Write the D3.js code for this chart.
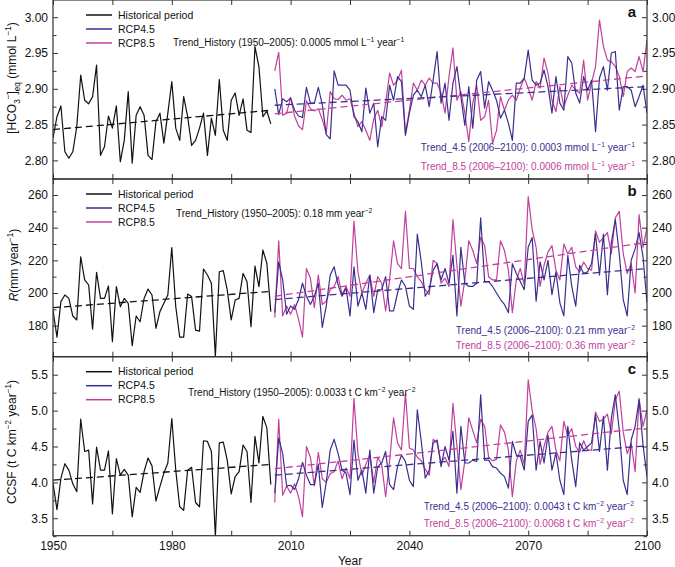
<!DOCTYPE html>
<html>
<head>
<meta charset="utf-8">
<title>HCO3, runoff and CCSF, 1950-2100</title>
<script src="https://d3js.org/d3.v7.min.js"></script>
<style>
  body { margin: 0; background: #fff; }
  text { font-family: "Liberation Sans", Arial, Helvetica, sans-serif; }
</style>
</head>
<body>
<div id="chart"></div>
<script>
// years
var histYears = d3.range(1950, 2006);
var rcpYears = d3.range(2006, 2101);
var xTicks = [1950, 1980, 2010, 2040, 2070, 2100];
var xMinor = [1965, 1995, 2025, 2055, 2085];

// panel a: [HCO3-]eq (mmol L-1)
var hco3Hist = [2.831, 2.861, 2.876, 2.812, 2.803, 2.812, 2.847, 2.919, 2.884, 2.879,
  2.889, 2.933, 2.807, 2.819, 2.862, 2.845, 2.876, 2.798, 2.828, 2.896,
  2.796, 2.863, 2.875, 2.863, 2.807, 2.801, 2.854, 2.866, 2.824, 2.866,
  2.910, 2.845, 2.828, 2.889, 2.861, 2.821, 2.828, 2.845, 2.866, 2.807,
  2.859, 2.835, 2.913, 2.842, 2.828, 2.884, 2.894, 2.863, 2.886, 2.842,
  2.839, 2.959, 2.931, 2.861, 2.869, 2.851];
var hco3Rcp45 = [2.900, 2.864, 2.886, 2.882, 2.887, 2.870, 2.862, 2.860, 2.902, 2.880,
  2.880, 2.902, 2.878, 2.836, 2.830, 2.925, 2.905, 2.905, 2.905, 2.898,
  2.861, 2.854, 2.840, 2.901, 2.866, 2.880, 2.819, 2.861, 2.856, 2.905,
  2.884, 2.917, 2.910, 2.835, 2.866, 2.891, 2.898, 2.889, 2.905, 2.875,
  2.912, 2.952, 2.880, 2.908, 2.856, 2.908, 2.931, 2.889, 2.849, 2.903,
  2.845, 2.912, 2.924, 2.873, 2.910, 2.898, 2.884, 2.859, 2.870, 2.852,
  2.828, 2.908, 2.908, 2.915, 2.954, 2.912, 2.905, 2.908, 2.926, 2.903,
  2.866, 2.917, 2.880, 2.870, 2.945, 2.936, 2.894, 2.880, 2.917, 2.898,
  2.912, 2.840, 2.915, 2.931, 2.898, 2.950, 2.952, 2.870, 2.903, 2.903,
  2.898, 2.875, 2.889, 2.905, 2.866];
var hco3Rcp85 = [2.925, 2.951, 2.863, 2.866, 2.888, 2.862, 2.848, 2.843, 2.883, 2.872,
  2.869, 2.872, 2.857, 2.838, 2.896, 2.886, 2.885, 2.891, 2.884, 2.886,
  2.866, 2.847, 2.854, 2.842, 2.828, 2.858, 2.870, 2.847, 2.880, 2.922,
  2.905, 2.912, 2.926, 2.838, 2.870, 2.908, 2.898, 2.912, 2.905, 2.915,
  2.908, 2.908, 2.894, 2.866, 2.917, 2.957, 2.884, 2.896, 2.866, 2.826,
  2.880, 2.905, 2.856, 2.861, 2.884, 2.824, 2.842, 2.889, 2.870, 2.884,
  2.891, 2.884, 2.901, 2.915, 2.901, 2.884, 2.910, 2.901, 2.943, 2.922,
  2.884, 2.868, 2.903, 2.875, 2.891, 2.905, 2.898, 2.894, 2.940, 2.884,
  2.908, 2.931, 2.996, 2.959, 2.940, 2.938, 2.931, 2.917, 2.889, 2.924,
  2.929, 2.924, 2.945, 2.924, 2.968];
// trend lines: [start, end] values
var hco3TrendHist = [2.843, 2.870];
var hco3Trend45 = [2.877, 2.903];
var hco3Trend85 = [2.865, 2.918];
var hco3Ticks = [2.80, 2.85, 2.90, 2.95, 3.00];
var hco3Minor = [2.775, 2.825, 2.875, 2.925, 2.975];

// panel b: R (mm year-1)
var runoffHist = [189.4, 173, 194.7, 198.8, 196.7, 185.9, 183.5, 222.2, 208, 204.9,
  177.8, 212.7, 196.7, 196.7, 204.3, 170.2, 203.9, 191.6, 196.7, 193.7,
  167.8, 185.9, 182.4, 196.7, 202.4, 198.8, 178.4, 188.6, 193.7, 198.8,
  227.8, 191.6, 173, 173, 199.4, 197.8, 177.3, 176.7, 214.7, 211,
  205.9, 161, 213, 213.7, 201.8, 183.5, 195.7, 196.7, 212, 206.9,
  179.4, 216.5, 203.9, 226.3, 218.2, 188.6];
var runoffRcp45 = [188, 219, 208, 187, 192, 190, 196, 206, 198, 193,
  198, 206, 179, 192, 211, 216, 205, 198, 203, 186,
  216, 192, 200, 190, 211, 188, 202, 202, 210, 189,
  189, 200, 208, 204, 192, 190, 236, 219, 198, 202,
  214, 218, 208, 215, 206, 223, 186, 228, 206, 204,
  204, 206, 246, 207, 207, 204, 200, 196, 193, 188,
  218, 212, 207, 202, 228, 234, 195, 219, 208, 220,
  199, 213, 194, 186, 223, 204, 192, 217, 212, 213,
  218, 236, 211, 236, 199, 231, 245, 224, 196, 186,
  220, 227, 237, 222, 194];
var runoffRcp85 = [185, 232, 186, 192, 187, 193, 184, 173, 215, 209,
  191, 211, 193, 195, 202, 204, 210, 199, 204, 198,
  244, 213, 200, 206, 211, 198, 210, 206, 189, 208,
  232, 218, 215, 250, 215, 215, 210, 207, 202, 199,
  220, 218, 206, 209, 204, 245, 217, 192, 208, 232,
  226, 218, 234, 229, 210, 208, 208, 232, 226, 214,
  188, 208, 215, 205, 259, 239, 228, 204, 217, 225,
  229, 214, 208, 230, 224, 228, 216, 213, 219, 215,
  214, 238, 231, 234, 237, 224, 246, 250, 224, 212,
  218, 200, 248, 228, 240];
var runoffTrendHist = [191, 201];
var runoffTrend45 = [196, 215];
var runoffTrend85 = [198, 231];
var runoffTicks = [180, 200, 220, 240, 260];
var runoffMinor = [170, 190, 210, 230, 250];

// panel c: CCSF (t C km-2 year-1)
var ccsfHist = [3.99, 3.62, 4.06, 4.26, 4.17, 3.98, 3.87, 4.88, 4.43, 4.45,
  3.70, 4.49, 4.17, 4.17, 4.44, 3.56, 4.33, 4.10, 4.18, 4.10,
  3.52, 3.93, 3.86, 4.15, 4.34, 4.23, 3.74, 3.94, 4.13, 4.27,
  4.89, 4.17, 3.66, 3.61, 4.17, 4.21, 3.72, 3.66, 4.58, 4.57,
  4.43, 3.24, 4.55, 4.56, 4.31, 3.84, 4.08, 4.15, 4.52, 4.43,
  3.72, 4.64, 4.27, 4.92, 4.76, 3.97];
var ccsfRcp45 = [3.85, 4.62, 4.40, 3.95, 3.96, 3.90, 4.05, 4.28, 4.10, 3.97,
  3.97, 4.25, 3.65, 4.00, 4.45, 4.60, 4.40, 4.17, 4.13, 3.83,
  4.59, 4.03, 4.17, 3.85, 4.45, 3.85, 4.22, 4.27, 4.43, 3.97,
  3.90, 4.22, 4.38, 4.29, 4.03, 3.94, 5.01, 4.57, 4.06, 4.17,
  4.55, 4.59, 4.22, 4.50, 4.31, 4.71, 3.85, 4.78, 4.27, 4.27,
  4.31, 4.29, 5.22, 4.31, 4.31, 4.22, 4.20, 4.13, 4.08, 3.92,
  4.57, 4.38, 4.36, 4.17, 4.85, 4.94, 4.17, 4.57, 4.27, 4.66,
  4.17, 4.41, 4.03, 3.83, 4.78, 4.31, 3.94, 4.55, 4.45, 4.50,
  4.55, 4.94, 4.43, 4.92, 4.17, 4.90, 5.22, 4.73, 4.03, 3.83,
  4.59, 4.78, 5.15, 4.52, 4.08];
var ccsfRcp85 = [3.72, 4.88, 3.82, 3.95, 3.85, 3.98, 3.80, 3.52, 4.50, 4.35,
  3.95, 4.42, 4.05, 4.00, 4.12, 4.15, 4.30, 4.05, 4.20, 4.05,
  5.17, 4.40, 4.10, 4.25, 4.38, 4.00, 4.35, 4.25, 3.80, 4.30,
  4.90, 4.55, 4.45, 5.24, 4.48, 4.45, 4.35, 4.30, 4.18, 4.10,
  4.60, 4.55, 4.28, 4.35, 4.22, 5.10, 4.50, 3.90, 4.30, 4.90,
  4.72, 4.55, 4.88, 4.78, 4.35, 4.30, 4.32, 4.80, 4.70, 4.45,
  3.80, 4.30, 4.45, 4.25, 5.43, 5.00, 4.75, 4.25, 4.50, 4.70,
  4.78, 4.45, 4.30, 4.85, 4.65, 4.75, 4.50, 4.42, 4.58, 4.45,
  4.45, 4.98, 4.85, 4.88, 4.95, 4.68, 5.15, 5.27, 4.70, 4.40,
  4.55, 4.15, 5.17, 4.78, 5.01];
var ccsfTrendHist = [4.03, 4.25];
var ccsfTrend45 = [4.10, 4.51];
var ccsfTrend85 = [4.19, 4.76];
var ccsfTicks = [3.5, 4.0, 4.5, 5.0, 5.5];
var ccsfMinor = [3.25, 3.75, 4.25, 4.75, 5.25];

var seriesNames = ["Historical period", "RCP4.5", "RCP8.5"];
var colors = ["#111111", "#3a2f8f", "#c2409c"];

// rich text helper: parts are strings or [string, "sup"|"sub"|"it"]
function rich(sel, parts, fs) {
    var shift = 0;
    parts.forEach(function (p) {
        var str = Array.isArray(p) ? p[0] : p;
        var kind = Array.isArray(p) ? p[1] : null;
        var target = kind === "sup" ? -0.4 * fs : (kind === "sub" ? 0.3 * fs : 0);
        var t = sel.append("tspan").text(str)
            .attr("dy", target - shift)
            .attr("font-size", (kind === "sup" || kind === "sub") ? fs * 0.68 : fs);
        if (kind === "it") t.attr("font-style", "italic");
        shift = target;
    });
}

var panels = [
    {
        letter: "a", top: 0, bottom: 179, domain: [2.774, 3.024],
        hist: hco3Hist, r45: hco3Rcp45, r85: hco3Rcp85,
        trends: [hco3TrendHist, hco3Trend45, hco3Trend85],
        ticks: hco3Ticks, minor: hco3Minor, fmt: d3.format(".2f"),
        label: ["[HCO", ["3", "sub"], ["−", "sup"], "]", ["eq", "sub"], " (mmol L", ["−1", "sup"], ")"],
        labelPos: [16, 78],
        unit: [" mmol L", ["−1", "sup"], " year", ["−1", "sup"]],
        hist0: "0.0005", r45v: "0.0003", r85v: "0.0006",
        histText: [173, 45.5], rText: [635, 151, 169.5]
    },
    {
        letter: "b", top: 179, bottom: 356.7, domain: [161, 269.8],
        hist: runoffHist, r45: runoffRcp45, r85: runoffRcp85,
        trends: [runoffTrendHist, runoffTrend45, runoffTrend85],
        ticks: runoffTicks, minor: runoffMinor, fmt: d3.format("d"),
        label: [["R", "it"], "(mm year", ["−1", "sup"], ")"],
        labelPos: [18, 265],
        unit: [" mm year", ["−2", "sup"]],
        hist0: "0.18", r45v: "0.21", r85v: "0.36",
        histText: [176, 216.5], rText: [635, 333.5, 349]
    },
    {
        letter: "c", top: 356.7, bottom: 535.7, domain: [3.257, 5.751],
        hist: ccsfHist, r45: ccsfRcp45, r85: ccsfRcp85,
        trends: [ccsfTrendHist, ccsfTrend45, ccsfTrend85],
        ticks: ccsfTicks, minor: ccsfMinor, fmt: d3.format(".1f"),
        label: ["CCSF (t C km", ["−2", "sup"], " year", ["−1", "sup"], ")"],
        labelPos: [16, 442],
        unit: [" t C km", ["−2", "sup"], " year", ["−2", "sup"]],
        hist0: "0.0033", r45v: "0.0043", r85v: "0.0068",
        histText: [188, 395.5], rText: [634, 510, 527]
    }
];

var W = 675, H = 567;
var left = 53, right = 647;

var svg = d3.select("#chart").append("svg")
    .attr("width", W).attr("height", H);

var x = d3.scaleLinear().domain([1950, 2100]).range([left, right]);

panels.forEach(function (p, i) {
    var y = d3.scaleLinear().domain(p.domain).range([p.bottom, p.top]);
    var g = svg.append("g").attr("class", "panel");

    var clipId = "clip" + i;
    svg.append("clipPath").attr("id", clipId)
        .append("rect").attr("x", left).attr("y", p.top)
        .attr("width", right - left).attr("height", p.bottom - p.top);

    var plot = g.append("g").attr("clip-path", "url(#" + clipId + ")");

    var line = d3.line().x(function (d) { return x(d[0]); }).y(function (d) { return y(d[1]); });

    var series = [
        histYears.map(function (yr, k) { return [yr, p.hist[k]]; }),
        rcpYears.map(function (yr, k) { return [yr, p.r45[k]]; }),
        rcpYears.map(function (yr, k) { return [yr, p.r85[k]]; })
    ];
    // draw 8.5 first, then 4.5 on top, history
    [2, 1, 0].forEach(function (s) {
        plot.append("path").datum(series[s])
            .attr("fill", "none").attr("stroke", colors[s])
            .attr("stroke-width", 1.2).attr("stroke-linejoin", "round")
            .attr("d", line);
    });

    var trendSpans = [[1950, 2005], [2006, 2100], [2006, 2100]];
    [2, 1, 0].forEach(function (s) {
        var t = p.trends[s];
        plot.append("path")
            .datum([[trendSpans[s][0], t[0]], [trendSpans[s][1], t[1]]])
            .attr("fill", "none").attr("stroke", colors[s])
            .attr("stroke-width", 1.3).attr("stroke-dasharray", "7,4")
            .attr("d", line);
    });

    // axes, ticks inward
    var axL = g.append("g").attr("transform", "translate(" + left + ",0)")
        .call(d3.axisLeft(y).tickValues(p.ticks).tickSize(-5).tickPadding(5).tickFormat(p.fmt));
    var axLm = g.append("g").attr("transform", "translate(" + left + ",0)")
        .call(d3.axisLeft(y).tickValues(p.minor).tickSize(-3.5).tickFormat(""));
    var axR = g.append("g").attr("transform", "translate(" + right + ",0)")
        .call(d3.axisRight(y).tickValues(p.ticks).tickSize(-5).tickPadding(5).tickFormat(p.fmt));
    var axRm = g.append("g").attr("transform", "translate(" + right + ",0)")
        .call(d3.axisRight(y).tickValues(p.minor).tickSize(-3.5).tickFormat(""));
    var axB = g.append("g").attr("transform", "translate(0," + p.bottom + ")")
        .call(d3.axisBottom(x).tickValues(xTicks).tickSize(-5).tickPadding(6)
            .tickFormat(i === 2 ? d3.format("d") : ""));
    var axBm = g.append("g").attr("transform", "translate(0," + p.bottom + ")")
        .call(d3.axisBottom(x).tickValues(xMinor).tickSize(-5).tickFormat(""));
    var axT = g.append("g").attr("transform", "translate(0," + p.top + ")")
        .call(d3.axisTop(x).tickValues(xTicks.concat(xMinor)).tickSize(-5).tickFormat(""));

    [axL, axLm, axR, axRm, axB, axBm, axT].forEach(function (a) {
        a.select(".domain").remove();
        a.selectAll(".tick line").attr("stroke", "#333").attr("stroke-width", 1);
        a.selectAll(".tick text").attr("font-size", 12).attr("fill", "#111")
            .attr("font-family", "'Liberation Sans', Arial, sans-serif");
    });

    // frame
    g.append("rect").attr("x", left).attr("y", p.top)
        .attr("width", right - left).attr("height", p.bottom - p.top)
        .attr("fill", "none").attr("stroke", "#333").attr("stroke-width", 1.2);

    // y label
    var yl = g.append("text")
        .attr("transform", "translate(" + p.labelPos[0] + "," + p.labelPos[1] + ") rotate(-90)")
        .attr("text-anchor", "middle").attr("fill", "#111");
    rich(yl, p.label, 12);

    // legend
    seriesNames.forEach(function (name, s) {
        var cy = p.top + 15 + s * 14;
        g.append("line").attr("x1", 86).attr("x2", 112).attr("y1", cy).attr("y2", cy)
            .attr("stroke", colors[s]).attr("stroke-width", 1.5);
        g.append("text").attr("x", 118).attr("y", cy + 3.7)
            .attr("font-size", 10.5).attr("fill", "#111").text(name);
    });

    // trend annotations
    var th = g.append("text").attr("x", p.histText[0]).attr("y", p.histText[1]).attr("fill", "#111");
    rich(th, ["Trend_History (1950–2005): " + p.hist0].concat(p.unit), 10);

    var t45 = g.append("text").attr("x", p.rText[0]).attr("y", p.rText[1])
        .attr("text-anchor", "end").attr("fill", colors[1]);
    rich(t45, ["Trend_4.5 (2006–2100): " + p.r45v].concat(p.unit), 10);

    var t85 = g.append("text").attr("x", p.rText[0]).attr("y", p.rText[2])
        .attr("text-anchor", "end").attr("fill", colors[2]);
    rich(t85, ["Trend_8.5 (2006–2100): " + p.r85v].concat(p.unit), 10);

    // panel letter
    g.append("text").attr("x", 632).attr("y", p.top + 17)
        .attr("text-anchor", "middle").attr("font-size", 15).attr("font-weight", "bold")
        .attr("fill", "#111").text(p.letter);
});

svg.append("text").attr("x", 350).attr("y", 565)
    .attr("text-anchor", "middle").attr("font-size", 12).attr("fill", "#111").text("Year");
</script>
</body>
</html>
